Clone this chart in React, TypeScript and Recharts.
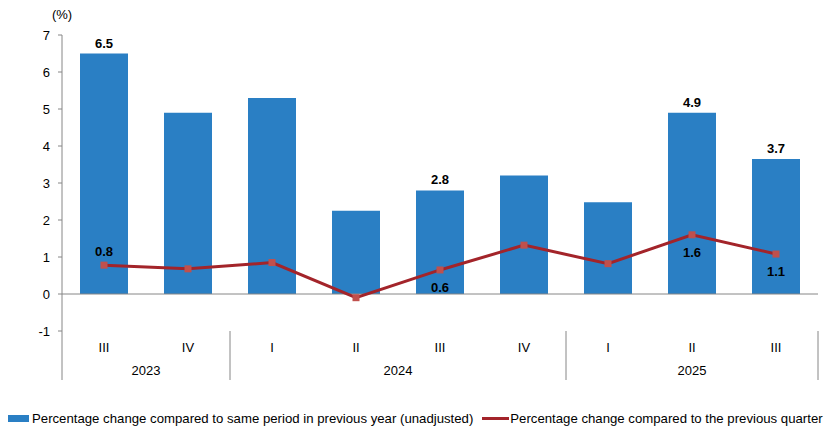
import React from 'react';
import { ComposedChart, Bar, Line, XAxis, YAxis, ReferenceLine, LabelList, Legend } from 'recharts';

const quarters = ['III', 'IV', 'I', 'II', 'III', 'IV', 'I', 'II', 'III'];
const years = ['2023', '2023', '2024', '2024', '2024', '2024', '2025', '2025', '2025'];
const yoyValues = [6.5, 4.9, 5.3, 2.25, 2.8, 3.2, 2.48, 4.9, 3.65];
const qoqValues = [0.78, 0.68, 0.85, -0.1, 0.65, 1.32, 0.82, 1.6, 1.08];
const yoyLabels = ['6.5', '', '', '', '2.8', '', '', '4.9', '3.7'];
const qoqLabels = ['0.8', '', '', '', '0.6', '', '', '1.6', '1.1'];
const yTicks = [-1, 0, 1, 2, 3, 4, 5, 6, 7];

const YOY_NAME = 'Percentage change compared to same period in previous year (unadjusted)';
const QOQ_NAME = 'Percentage change compared to the previous quarter';

const BAR_COLOR = '#2A7FC4';
const LINE_COLOR = '#A3242A';
const MARKER_COLOR = '#C0504D';
const AXIS_COLOR = '#868686';
const FONT = '"Liberation Sans", Arial, sans-serif';
const FS = 13;
const QOQ_LABEL_ABOVE = new Set([0]);

const data = quarters.map((q, i) => ({
  quarter: q,
  year: years[i],
  yoy: yoyValues[i],
  qoq: qoqValues[i],
  yoyLabel: yoyLabels[i],
  qoqLabel: qoqLabels[i],
}));

const XTick = (props: any) => {
  const { x, y, payload } = props;
  const i = payload.index;
  const half = payload.offset ?? (props.width ?? 756) / quarters.length / 2;
  const yr = years[i];
  const start = years.indexOf(yr);
  const end = years.lastIndexOf(yr);
  const n = end - start + 1;
  const mid = start + Math.floor((n - 1) / 2);
  const yearX = n % 2 === 0 ? x + half : x;
  return (
    <g>
      <text x={x} y={y + 21} textAnchor="middle" fontSize={FS} fontFamily={FONT} fill="#000">
        {payload.value}
      </text>
      {i === mid && (
        <text x={yearX} y={y + 44} textAnchor="middle" fontSize={FS} fontFamily={FONT} fill="#000">
          {yr}
        </text>
      )}
      {i === start && <line x1={x - half} x2={x - half} y1={y} y2={y + 49} stroke={AXIS_COLOR} strokeWidth={1} />}
      {i === quarters.length - 1 && (
        <line x1={x + half} x2={x + half} y1={y} y2={y + 49} stroke={AXIS_COLOR} strokeWidth={1} />
      )}
    </g>
  );
};

const SquareDot = (props: any) => {
  const { cx, cy } = props;
  if (cx == null || cy == null) return null;
  return <rect x={cx - 3.5} y={cy - 3.5} width={7} height={7} fill={MARKER_COLOR} />;
};

const BarLabel = (props: any) => {
  const { x, y, width, value } = props;
  if (!value) return null;
  return (
    <text x={x + width / 2} y={y - 6} textAnchor="middle" fontSize={FS} fontWeight="bold" fontFamily={FONT} fill="#000">
      {value}
    </text>
  );
};

const LineLabel = (props: any) => {
  const { x, y, value, index } = props;
  if (!value) return null;
  const above = QOQ_LABEL_ABOVE.has(index);
  return (
    <text x={x} y={above ? y - 9 : y + 22} textAnchor="middle" fontSize={FS} fontWeight="bold" fontFamily={FONT} fill="#000">
      {value}
    </text>
  );
};

const LegendContent = () => (
  <div style={{ display: 'flex', alignItems: 'center', fontFamily: FONT, fontSize: 13.2, color: '#000', height: 20, whiteSpace: 'nowrap' }}>
    <span style={{ display: 'inline-block', width: 26, height: 7, background: BAR_COLOR, marginLeft: -5, marginRight: 3 }} />
    <span>{YOY_NAME}</span>
    <span style={{ display: 'inline-block', width: 27, height: 3, background: LINE_COLOR, marginLeft: 9, marginRight: 1 }} />
    <span>{QOQ_NAME}</span>
  </div>
);

const PercentLabel = (props: any) => {
  const { viewBox } = props;
  if (!viewBox) return null;
  return (
    <text x={viewBox.x + viewBox.width} y={viewBox.y - 16} textAnchor="middle" fontSize={FS} fontFamily={FONT} fill="#000">
      (%)
    </text>
  );
};

export default function App() {
  return (
    <ComposedChart
      width={824}
      height={421}
      data={data}
      margin={{ top: 27, right: 14, bottom: 28, left: 0 }}
      barSize={48}
    >
      <XAxis
        dataKey="quarter"
        axisLine={false}
        tickLine={false}
        tickSize={0}
        tickMargin={0}
        height={50}
        interval={0}
        tick={<XTick />}
      />
      <YAxis
        domain={[-1, 7]}
        ticks={yTicks}
        width={54}
        axisLine={{ stroke: AXIS_COLOR }}
        tickLine={{ stroke: AXIS_COLOR }}
        tickSize={4}
        tickMargin={8}
        tick={{ fontSize: FS, fontFamily: FONT, fill: '#000' }}
        interval={0}
        label={<PercentLabel />}
      />
      <ReferenceLine y={0} stroke={AXIS_COLOR} strokeWidth={1} />
      <Bar dataKey="yoy" name={YOY_NAME} fill={BAR_COLOR} isAnimationActive={false}>
        <LabelList dataKey="yoyLabel" content={<BarLabel />} />
      </Bar>
      <Line
        dataKey="qoq"
        name={QOQ_NAME}
        stroke={LINE_COLOR}
        strokeWidth={3}
        dot={<SquareDot />}
        activeDot={false}
        isAnimationActive={false}
      >
        <LabelList dataKey="qoqLabel" content={<LineLabel />} />
      </Line>
      <Legend
        verticalAlign="bottom"
        content={<LegendContent />}
        wrapperStyle={{ top: 400, left: 0, bottom: 'auto', width: 'auto' }}
      />
    </ComposedChart>
  );
}
